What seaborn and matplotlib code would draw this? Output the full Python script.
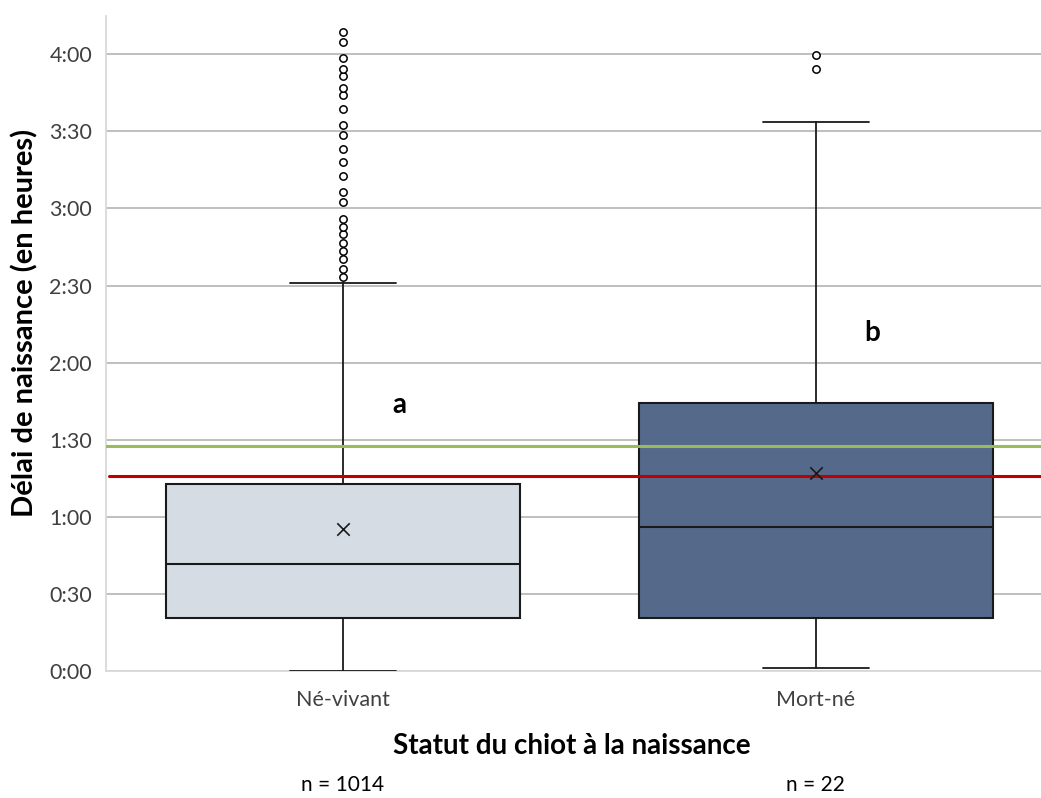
import matplotlib
matplotlib.use("Agg")
import matplotlib.pyplot as plt
import seaborn as sns
import pandas as pd

# statut du chiot -> stats of the box (minutes)
groups = ["Né-vivant", "Mort-né"]
counts = [1014, 22]
whisker_low = [0, 1]
q1 = [20.6, 20.6]
median = [41.6, 56.0]
q3 = [72.8, 104.2]
whisker_high = [151, 213.5]
means = [55.3, 76.9]
letters = ["a", "b"]
letter_y = [103.5, 131.5]

outliers_vivant = [153.2, 156.3, 160.4, 163.5, 166.7, 169.9, 172.9, 176.0, 182.4,
                   186.4, 192.7, 197.9, 203.2, 208.4, 212.5, 218.8, 224.0, 226.8,
                   231.4, 234.2, 238.6, 244.9, 248.8]
outliers_mort = [234.2, 239.6]

ref_green = 87.4   # minutes
ref_red = 76.0

box_colors = ["#D6DCE4", "#556A8B"]
tick_minutes = [0, 30, 60, 90, 120, 150, 180, 210, 240]
tick_labels = [f"{m // 60}:{m % 60:02d}" for m in tick_minutes]

sns.set_theme(style="whitegrid")
plt.rcParams["font.family"] = ["Lato", "DejaVu Sans"]

fig = plt.figure(figsize=(10.41, 7.98), dpi=100)
ax = fig.add_axes([0.1018, 0.1591, 0.8982, 0.8212])

stats = []
for i in range(len(groups)):
    stats.append(dict(med=median[i], q1=q1[i], q3=q3[i],
                      whislo=whisker_low[i], whishi=whisker_high[i],
                      fliers=[], mean=means[i], label=groups[i]))

bp = ax.bxp(stats, positions=[0, 1], widths=0.75, capwidths=0.225,
            showfliers=False, showmeans=False, patch_artist=True,
            boxprops=dict(edgecolor="#1a1a1a", linewidth=1.5),
            medianprops=dict(color="#1a1a1a", linewidth=1.5),
            whiskerprops=dict(color="#1a1a1a", linewidth=1.3),
            capprops=dict(color="#1a1a1a", linewidth=1.3), zorder=3)
for patch, c in zip(bp["boxes"], box_colors):
    patch.set_facecolor(c)

# outliers
fl = pd.DataFrame({"x": [0] * len(outliers_vivant) + [1] * len(outliers_mort),
                   "y": outliers_vivant + outliers_mort})
sns.scatterplot(data=fl, x="x", y="y", ax=ax, marker="o", s=28,
                facecolor="white", edgecolor="black", linewidth=1.1, zorder=4)

# means
mn = pd.DataFrame({"x": [0, 1], "y": means})
sns.scatterplot(data=mn, x="x", y="y", ax=ax, marker="x", s=80,
                color="#1a1a1a", linewidth=1.2, zorder=5)

ax.axhline(ref_green, color="#9BBB59", linewidth=2.2, zorder=4)
ax.axhline(ref_red, color="#C00000", linewidth=2.2, zorder=4, xmin=0.003)

for i, lt in enumerate(letters):
    ax.text(i + 0.12, letter_y[i], lt, fontsize=20, fontweight="bold", ha="center",
            va="center", color="black", zorder=6)

ax.set_xlim(-0.501, 1.476)
ax.set_ylim(0, 255)
ax.set_yticks(tick_minutes)
ax.set_yticklabels(tick_labels)
ax.set_xticks([0, 1])
ax.set_xticklabels(groups)
ax.tick_params(axis="both", colors="#404040", labelsize=15.5, length=0)
ax.tick_params(axis="y", pad=10)
ax.tick_params(axis="x", pad=14)

ax.grid(axis="y", color="#BFBFBF", linewidth=1.4)
ax.grid(axis="x", visible=False)
ax.set_facecolor("white")
for side in ["top", "right"]:
    ax.spines[side].set_visible(False)
for side in ["left", "bottom"]:
    ax.spines[side].set_color("#D9D9D9")
    ax.spines[side].set_linewidth(1.3)

ax.set_xlabel("Statut du chiot à la naissance", fontsize=20, fontweight="bold",
              color="black")
ax.set_ylabel("Délai de naissance (en heures)", fontsize=21, fontweight="bold",
              color="black")
ax.xaxis.set_label_coords(0.4986, -0.095)
ax.yaxis.set_label_coords(-0.072, 0.531)

for i, n in enumerate(counts):
    ax.text(i, -0.174, f"n = {n}", transform=ax.get_xaxis_transform(),
            ha="center", va="center", fontsize=15, color="black", clip_on=False)

fig.savefig("out.png", dpi=100)
